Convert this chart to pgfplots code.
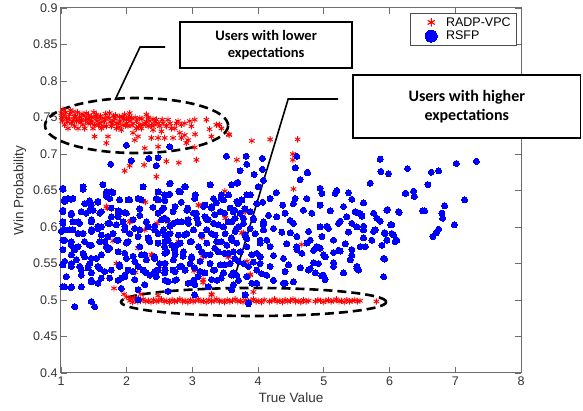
\documentclass[border=0pt]{standalone}
\usepackage{fontspec}
\setmainfont{Liberation Sans}
\newfontfamily\callfont{Carlito}
\usepackage{pgfplots}
\pgfplotsset{compat=1.18}

\definecolor{axgray}{RGB}{110,110,110}

% legend pictures with larger marks than the plot
\pgfplotsset{
  redleg/.style={legend image code/.code={\path[draw=none, fill=none] (0cm,0cm) -- (1.05cm,0cm);
    \draw[##1, only marks, mark size=4.2pt, mark options={line width=1.1pt}] plot coordinates {(0.6cm,0cm)};}},
  blueleg/.style={legend image code/.code={\path[draw=none, fill=none] (0cm,0cm) -- (1.05cm,0cm);
    \draw[##1, only marks, mark size=6pt] plot coordinates {(0.6cm,0cm)};}},
}

\begin{document}
\begin{tikzpicture}
\begin{axis}[
  scale only axis,
  width=460pt, height=365pt,
  xmin=1, xmax=8, ymin=0.4, ymax=0.9,
  xtick={1,2,3,4,5,6,7,8},
  ytick={0.4,0.45,0.5,0.55,0.6,0.65,0.7,0.75,0.8,0.85,0.9},
  yticklabels={0.4,0.45,0.5,0.55,0.6,0.65,0.7,0.75,0.8,0.85,0.9},
  tick align=inside,
  major tick length=6pt,
  axis line style={axgray, line width=1pt},
  every tick/.style={axgray, line width=0.8pt},
  tick label style={font=\fontsize{12.5}{14}\selectfont, text=black!80},
  /pgf/number format/assume math mode=true,
  label style={font=\fontsize{13.5}{15}\selectfont, text=black!80},
  xlabel={True Value},
  ylabel={Win Probability},
  clip=false,
  legend style={at={(1,1)}, anchor=north east, xshift=-4pt, yshift=-5pt,
    draw=black!70, line width=0.6pt, font=\fontsize{12.5}{14}\selectfont,
    inner xsep=4pt, inner ysep=2pt, row sep=-0.5pt},
  legend cell align=left,
]
% RADP-VPC
\addplot[only marks, mark=asterisk, mark size=3.2pt, red, mark options={line width=0.9pt}, redleg]
coordinates {
(1.005,0.756)(1.030,0.761)(1.081,0.749)(1.132,0.754)(1.182,0.758)(1.233,0.745)(1.284,0.751)
(1.335,0.740)(1.385,0.756)(1.436,0.747)(1.487,0.735)(1.538,0.754)(1.589,0.742)(1.639,0.749)
(1.690,0.738)(1.741,0.756)(1.792,0.745)(1.842,0.735)(1.893,0.751)(1.944,0.740)(1.995,0.747)
(2.045,0.756)(2.096,0.742)(2.147,0.735)(2.198,0.749)(2.248,0.740)(2.299,0.754)(2.350,0.745)
(2.401,0.733)(2.451,0.747)(2.502,0.738)(2.553,0.742)(2.629,0.747)(2.680,0.735)(2.756,0.742)
(2.832,0.740)(2.883,0.742)(2.984,0.738)(3.035,0.747)(3.213,0.747)(3.365,0.740)(3.441,0.735)
(3.553,0.727)(3.289,0.724)(2.883,0.726)(2.832,0.722)(2.934,0.719)(2.705,0.722)(2.578,0.722)
(2.477,0.722)(2.375,0.722)(2.172,0.724)(2.122,0.719)(2.096,0.729)(1.715,0.724)(1.512,0.724)
(1.690,0.715)(2.274,0.708)(2.477,0.710)(3.035,0.709)(2.908,0.715)(1.056,0.740)(1.106,0.735)
(1.157,0.742)(1.208,0.738)(1.208,0.751)(1.259,0.735)(1.309,0.747)(1.360,0.735)(1.411,0.742)
(1.462,0.751)(1.512,0.740)(1.563,0.749)(1.614,0.735)(1.665,0.745)(1.766,0.738)(1.817,0.749)
(1.868,0.742)(1.918,0.733)(1.969,0.754)(2.020,0.738)(2.071,0.749)(2.223,0.735)(2.325,0.738)
(2.426,0.740)(2.528,0.731)(2.604,0.738)(2.731,0.735)(2.807,0.729)(3.040,0.727)(3.260,0.734)
(3.410,0.740)(3.560,0.726)(1.020,0.745)(1.070,0.757)(1.120,0.748)(1.170,0.744)(1.250,0.757)
(1.300,0.743)(1.350,0.752)(1.400,0.748)(1.450,0.742)(1.500,0.757)(1.550,0.745)(1.600,0.752)
(1.650,0.738)(1.700,0.750)(1.750,0.744)(1.800,0.752)(1.850,0.742)(1.900,0.745)(1.950,0.748)
(2.000,0.742)(2.050,0.745)(2.150,0.745)(2.200,0.740)(2.300,0.744)(2.400,0.748)
(1.010,0.750)(1.045,0.753)(1.095,0.744)(1.145,0.760)(1.195,0.747)(1.220,0.752)(1.270,0.746)
(1.320,0.755)(1.370,0.746)(1.420,0.753)(1.470,0.745)(1.520,0.750)(1.570,0.739)(1.620,0.744)
(1.680,0.755)(1.730,0.749)(1.780,0.741)(1.830,0.753)(1.880,0.737)(1.930,0.751)(1.980,0.739)
(2.030,0.750)(2.080,0.739)(2.130,0.750)(2.180,0.737)(2.230,0.748)(2.280,0.742)(2.330,0.750)
(2.380,0.739)(2.430,0.744)(2.480,0.742)(2.540,0.747)(2.660,0.742)(2.780,0.745)(2.960,0.745)
(1.969,0.677)(2.045,0.684)(2.071,0.691)(2.264,0.685)(2.451,0.669)(2.604,0.690)(2.792,0.688)
(3.061,0.692)(3.492,0.649)(4.183,0.720)(4.600,0.720)(4.528,0.700)(4.528,0.692)(4.538,0.652)
(3.675,0.692)(3.903,0.718)
(2.284,0.634)(2.731,0.628)(2.061,0.608)(2.462,0.605)(2.629,0.607)(1.792,0.581)(2.274,0.596)
(3.147,0.586)(2.792,0.579)(2.172,0.571)(2.390,0.561)(3.162,0.561)(3.533,0.561)(1.842,0.550)
(2.132,0.538)(2.502,0.546)(3.025,0.540)(3.162,0.528)(3.162,0.524)(1.807,0.516)(1.959,0.508)
(2.213,0.508)(2.477,0.506)(3.289,0.508)(1.706,0.626)(3.100,0.630)(3.550,0.561)(3.880,0.535)
(3.830,0.553)(3.750,0.592)(3.500,0.612)(3.801,0.622)(3.776,0.592)(4.664,0.576)(3.878,0.534)
(3.928,0.511)(3.092,0.630)(3.498,0.616)(3.802,0.621)(3.143,0.587)(2.787,0.580)(3.168,0.559)
(3.549,0.559)(3.295,0.507)(1.690,0.628)(2.045,0.607)(2.375,0.562)
(2.00,0.504)(2.06,0.502)(2.12,0.503)
(2.05,0.499)(2.09,0.497)(2.13,0.500)(2.17,0.498)(2.21,0.499)(2.25,0.501)(2.29,0.498)(2.33,0.499)
(2.37,0.497)(2.41,0.500)(2.45,0.498)(2.49,0.499)(2.53,0.501)(2.57,0.498)(2.61,0.499)(2.65,0.497)
(2.69,0.500)(2.73,0.498)(2.77,0.499)(2.81,0.501)(2.85,0.498)(2.89,0.499)(2.93,0.497)(2.97,0.500)
(3.01,0.498)(3.05,0.499)(3.09,0.501)(3.13,0.498)(3.17,0.499)(3.21,0.497)(3.25,0.500)(3.29,0.498)
(3.33,0.499)(3.37,0.501)(3.41,0.498)(3.45,0.499)(3.49,0.497)(3.53,0.500)(3.57,0.498)(3.61,0.499)
(3.65,0.501)(3.69,0.498)(3.73,0.499)(3.77,0.497)(3.81,0.500)(3.85,0.498)(3.89,0.499)(3.93,0.501)
(3.97,0.498)(4.01,0.499)(4.05,0.497)(4.09,0.500)(4.17,0.498)(4.21,0.499)(4.25,0.501)(4.29,0.498)
(4.33,0.499)(4.37,0.497)(4.41,0.500)(4.45,0.498)(4.49,0.499)(4.53,0.501)(4.57,0.498)(4.61,0.499)
(4.65,0.497)(4.69,0.500)(4.73,0.498)(4.77,0.499)(4.87,0.498)(4.91,0.500)(4.95,0.499)(4.99,0.497)
(5.03,0.499)(5.07,0.500)(5.11,0.498)(5.15,0.499)(5.19,0.501)(5.23,0.498)(5.27,0.499)(5.31,0.497)
(5.35,0.500)(5.39,0.498)(5.43,0.499)(5.47,0.500)(5.51,0.498)(5.55,0.499)(5.80,0.498)
};
\addlegendentry{RADP-VPC}
% RSFP
\addplot[only marks, mark=*, mark size=3pt, blue, mark options={fill=blue, draw=blue, line width=0pt}, blueleg]
coordinates {
(1.995,0.712)(2.655,0.710)(1.756,0.686)(2.070,0.691)(2.335,0.694)(2.477,0.695)(2.450,0.684)
(3.517,0.697)(1.030,0.652)(1.335,0.652)(1.639,0.658)(1.690,0.648)(1.790,0.647)(2.248,0.655)
(2.655,0.659)(2.477,0.648)(2.655,0.645)(2.792,0.649)(2.883,0.655)(3.274,0.658)(3.440,0.644)
(3.594,0.658)(1.106,0.639)(1.182,0.639)(3.690,0.661)(3.830,0.644)
(1.056,0.638)(1.157,0.638)(1.436,0.636)(1.563,0.634)(1.690,0.642)(1.893,0.637)(2.020,0.637)
(2.172,0.639)(2.450,0.639)(2.580,0.636)(2.830,0.634)(3.035,0.639)(3.190,0.630)(3.290,0.626)
(3.365,0.633)(3.440,0.639)
(1.030,0.623)(1.157,0.617)(1.385,0.619)(1.487,0.623)(1.614,0.621)(1.766,0.626)(1.868,0.622)
(1.970,0.620)(2.198,0.625)(2.400,0.627)(2.530,0.623)(2.705,0.621)(2.930,0.626)(3.060,0.619)
(3.190,0.614)(3.340,0.617)(3.490,0.619)(3.644,0.623)
(1.030,0.607)(1.259,0.607)(1.462,0.610)(1.563,0.601)(1.715,0.605)(1.842,0.603)(1.970,0.601)
(2.122,0.598)(2.300,0.607)(2.426,0.601)(2.580,0.612)(2.655,0.601)(2.780,0.607)(2.934,0.610)
(3.086,0.605)(3.238,0.610)(3.390,0.603)(3.543,0.607)(3.670,0.598)
(1.056,0.596)(1.182,0.596)(1.335,0.591)(1.462,0.594)(1.614,0.589)(1.715,0.587)(1.056,0.582)
(1.157,0.575)(1.436,0.575)(1.665,0.580)(1.868,0.582)(2.020,0.580)(2.172,0.587)(2.325,0.585)
(2.477,0.591)(2.630,0.582)(2.756,0.575)(2.883,0.589)(2.984,0.580)(3.137,0.589)(3.290,0.591)
(3.440,0.580)(3.594,0.585)
(1.030,0.569)(1.208,0.569)(1.335,0.564)(1.462,0.557)(1.614,0.562)(1.741,0.571)(1.970,0.564)
(2.096,0.560)(2.274,0.562)(2.426,0.557)(2.580,0.564)(2.730,0.569)(2.857,0.560)(2.984,0.557)
(3.190,0.562)(3.340,0.571)(3.490,0.564)(3.644,0.557)
(1.030,0.548)(1.157,0.550)(1.284,0.546)(1.411,0.544)(1.563,0.546)(1.665,0.539)(1.893,0.548)
(2.020,0.541)(2.172,0.546)(2.300,0.537)(2.426,0.539)(2.580,0.550)(2.705,0.541)(2.807,0.546)
(3.035,0.544)(3.190,0.537)(3.340,0.541)(3.490,0.548)(3.620,0.537)
(1.081,0.532)(1.309,0.534)(1.462,0.525)(1.614,0.530)(1.918,0.530)(2.122,0.528)(2.274,0.521)
(2.450,0.532)(2.630,0.525)(2.756,0.528)(2.934,0.523)(3.086,0.532)(3.290,0.528)(3.440,0.530)
(3.594,0.534)(1.030,0.518)(1.157,0.518)(1.918,0.516)(2.172,0.514)(2.630,0.512)(3.035,0.521)
(3.238,0.518)
(1.208,0.491)(1.462,0.498)(1.512,0.491)(2.172,0.500)(3.035,0.507)
(1.030,0.653)(1.335,0.655)(1.639,0.658)(2.248,0.655)(2.477,0.648)(1.056,0.635)(1.182,0.639)
(1.360,0.632)(1.462,0.630)(1.563,0.635)(1.690,0.646)(1.766,0.648)(1.741,0.639)(2.045,0.637)
(2.223,0.637)(2.477,0.637)(2.578,0.644)
(1.030,0.621)(1.157,0.619)(1.309,0.621)(1.436,0.623)(1.589,0.619)(1.766,0.614)(1.893,0.621)
(1.995,0.619)(1.868,0.614)(2.198,0.616)(2.477,0.619)
(1.030,0.605)(1.182,0.607)(1.284,0.605)(1.462,0.607)(1.614,0.600)(1.741,0.605)(1.944,0.607)
(2.096,0.610)(2.299,0.607)(2.528,0.610)
(1.005,0.594)(1.132,0.596)(1.259,0.591)(1.462,0.596)(1.563,0.598)(1.792,0.591)(1.969,0.596)
(2.045,0.591)(2.198,0.596)(2.325,0.600)(2.426,0.596)(2.578,0.589)
(1.030,0.582)(1.157,0.580)(1.259,0.573)(1.360,0.580)(1.462,0.575)(1.589,0.580)(1.690,0.573)
(1.842,0.582)(1.995,0.578)(2.198,0.573)(2.350,0.580)(2.477,0.578)(2.578,0.573)
(1.030,0.569)(1.157,0.562)(1.233,0.555)(1.360,0.559)(1.436,0.550)(1.538,0.557)(1.614,0.562)
(1.715,0.569)(1.868,0.566)(1.995,0.557)(2.122,0.553)(2.223,0.562)(2.299,0.555)(2.426,0.559)
(2.502,0.550)
(1.056,0.553)(1.157,0.546)(1.309,0.541)(1.462,0.537)(1.589,0.543)(1.766,0.541)(1.893,0.546)
(1.969,0.534)(2.096,0.539)(2.248,0.541)(2.350,0.534)(2.477,0.541)(2.578,0.537)
(1.056,0.518)(1.157,0.517)(1.309,0.518)(1.462,0.527)(1.563,0.523)(1.741,0.530)(1.868,0.527)
(1.969,0.532)
(2.660,0.660)(3.269,0.658)(3.675,0.660)(2.889,0.655)(2.635,0.644)(2.813,0.648)(3.041,0.644)
(3.320,0.639)(3.472,0.637)(3.549,0.644)(3.675,0.635)(3.752,0.637)(3.879,0.644)(3.980,0.632)
(2.559,0.626)(2.736,0.628)(2.914,0.623)(3.016,0.619)(3.168,0.628)(3.295,0.628)(3.422,0.621)
(3.574,0.626)(3.726,0.619)(3.879,0.621)
(2.610,0.610)(2.711,0.605)(2.838,0.607)(2.939,0.605)(3.066,0.612)(3.219,0.610)(3.320,0.605)
(3.472,0.600)(3.599,0.607)(3.777,0.605)(3.929,0.610)(4.082,0.607)
(2.559,0.596)(2.660,0.591)(2.787,0.589)(2.914,0.591)(3.016,0.596)(3.219,0.596)(3.346,0.589)
(3.498,0.591)(3.650,0.594)(3.802,0.589)(3.955,0.591)(4.082,0.596)
(2.584,0.580)(2.686,0.575)(2.813,0.578)(2.965,0.580)(3.092,0.573)(3.219,0.578)(3.371,0.580)
(3.523,0.575)(3.675,0.578)(3.828,0.573)(4.031,0.578)(4.132,0.582)
(2.610,0.566)(2.736,0.562)(2.863,0.566)(2.990,0.559)(3.143,0.566)(3.269,0.562)(3.396,0.566)
(3.549,0.564)(3.726,0.566)(3.904,0.562)(4.031,0.559)
(2.584,0.550)(2.711,0.555)(2.838,0.546)(2.965,0.550)(3.117,0.553)(3.269,0.550)(3.422,0.548)
(3.574,0.550)(3.701,0.553)(3.853,0.546)(4.031,0.550)
(2.584,0.541)(2.736,0.539)(2.889,0.541)(3.117,0.539)(3.320,0.541)(3.472,0.537)(3.625,0.534)
(3.828,0.532)(3.980,0.541)(4.132,0.534)
(2.584,0.527)(2.736,0.527)(3.016,0.527)(3.371,0.527)(3.701,0.527)(3.980,0.523)(3.853,0.495)
(3.817,0.697)(3.827,0.686)(4.065,0.694)(3.725,0.677)(3.938,0.672)(4.065,0.679)(4.588,0.697)
(4.563,0.681)(4.750,0.675)(4.639,0.665)(3.675,0.660)(4.000,0.655)(4.080,0.664)(4.274,0.647)
(4.182,0.639)(4.563,0.639)(4.740,0.639)(4.943,0.653)(4.970,0.646)(5.197,0.650)(5.172,0.646)
(5.375,0.647)(5.426,0.638)(5.603,0.633)(5.705,0.660)(5.857,0.693)(5.867,0.676)(5.984,0.673)
(6.273,0.680)(6.248,0.646)
(3.700,0.632)(3.800,0.625)(4.070,0.634)(4.375,0.630)(4.537,0.632)(4.690,0.623)(4.817,0.619)
(4.943,0.630)(5.096,0.622)(5.299,0.628)(5.476,0.621)(5.553,0.618)(5.756,0.619)(5.959,0.623)
(6.136,0.621)(3.624,0.621)(3.649,0.612)(3.776,0.612)(3.928,0.612)(4.157,0.616)(4.284,0.614)
(4.410,0.619)(4.487,0.609)(4.537,0.605)(3.700,0.600)(3.878,0.598)(4.080,0.603)(4.233,0.598)
(4.360,0.593)(4.943,0.600)(5.070,0.598)(5.223,0.605)(5.375,0.593)(5.502,0.600)(5.603,0.596)
(5.780,0.596)(5.933,0.591)(6.035,0.603)(6.060,0.589)(6.110,0.582)(3.598,0.582)(3.827,0.584)
(4.030,0.582)(4.182,0.573)(4.436,0.577)(4.588,0.573)(4.791,0.582)(4.943,0.571)(5.147,0.582)
(5.223,0.568)(5.324,0.577)(5.553,0.573)(5.730,0.582)(5.883,0.575)(3.624,0.566)(3.979,0.564)
(4.233,0.561)(4.385,0.557)(4.664,0.564)(4.842,0.568)(5.020,0.559)(5.426,0.561)
(6.239,0.646)(6.365,0.649)(6.376,0.642)(7.142,0.637)(6.838,0.629)(6.797,0.619)(6.807,0.612)
(6.502,0.622)(6.533,0.622)(6.147,0.620)(5.970,0.624)(6.020,0.603)(6.985,0.603)(6.746,0.597)
(6.710,0.592)(6.660,0.587)(6.086,0.580)(5.960,0.582)(5.919,0.592)(6.035,0.591)(5.924,0.556)
(5.909,0.532)(5.528,0.541)(5.503,0.546)(5.401,0.555)(5.300,0.537)(5.147,0.551)(5.020,0.528)
(4.970,0.533)(4.868,0.537)(4.767,0.541)(4.640,0.544)(4.538,0.525)(4.410,0.523)(4.410,0.539)
(4.843,0.551)(4.995,0.562)(5.147,0.565)(5.249,0.567)(5.426,0.569)(5.630,0.573)(5.604,0.585)
(5.757,0.594)(5.604,0.601)(5.858,0.608)(5.807,0.612)(5.579,0.615)(5.503,0.620)(5.604,0.633)
(5.350,0.614)(5.249,0.608)(5.426,0.605)(5.046,0.601)(4.970,0.587)(4.894,0.573)(4.741,0.578)
(4.589,0.569)(4.767,0.594)(4.589,0.587)(4.487,0.592)
(3.776,0.550)(3.928,0.552)(3.675,0.534)(3.624,0.521)(3.903,0.523)(4.233,0.527)(4.385,0.523)
(4.537,0.525)(4.055,0.536)(4.182,0.546)(4.461,0.548)(4.791,0.543)(4.918,0.550)(4.994,0.534)
(5.147,0.546)(5.299,0.537)(5.502,0.543)(5.908,0.557)(3.801,0.507)(3.852,0.496)(3.598,0.514)
(6.635,0.675)(6.746,0.677)(7.015,0.687)(7.320,0.690)(6.584,0.658)(4.751,0.674)
};
\addlegendentry{RSFP}

% dashed ellipses
\draw[black, line width=2.6pt, dash pattern=on 9pt off 5pt]
  (axis cs:2.15,0.739) ellipse [x radius=1.393, y radius=0.0377];
\draw[black, line width=2.6pt, dash pattern=on 9pt off 5pt]
  (axis cs:3.931,0.4973) ellipse [x radius=2.018, y radius=0.0192];
% callout lines
\draw[black, line width=1.6pt] (axis cs:1.822,0.774) -- (axis cs:2.203,0.8466) -- (axis cs:2.584,0.8466);
\draw[black, line width=1.6pt] (axis cs:3.665,0.5384) -- (axis cs:4.457,0.7753) -- (axis cs:5.218,0.7753);
% callout boxes
\draw[black, line width=1.6pt, fill=white] (axis cs:2.812,0.8808) rectangle (axis cs:5.431,0.8178);
\node[font=\callfont\bfseries\fontsize{14.5}{17.5}\selectfont, align=center]
  at (axis cs:4.1215,0.8493) {Users with lower\\expectations};
\draw[black, line width=1.6pt, fill=white] (axis cs:5.447,0.8082) rectangle (axis cs:8.903,0.7219);
\node[font=\callfont\bfseries\fontsize{16}{19.5}\selectfont, align=center]
  at (axis cs:7.175,0.765) {Users with higher\\expectations};
\end{axis}
\pgfresetboundingbox
\path ([shift={(-61pt,-38pt)}]current axis.south west) rectangle ([shift={(62pt,8pt)}]current axis.north east);
\end{tikzpicture}
\end{document}
